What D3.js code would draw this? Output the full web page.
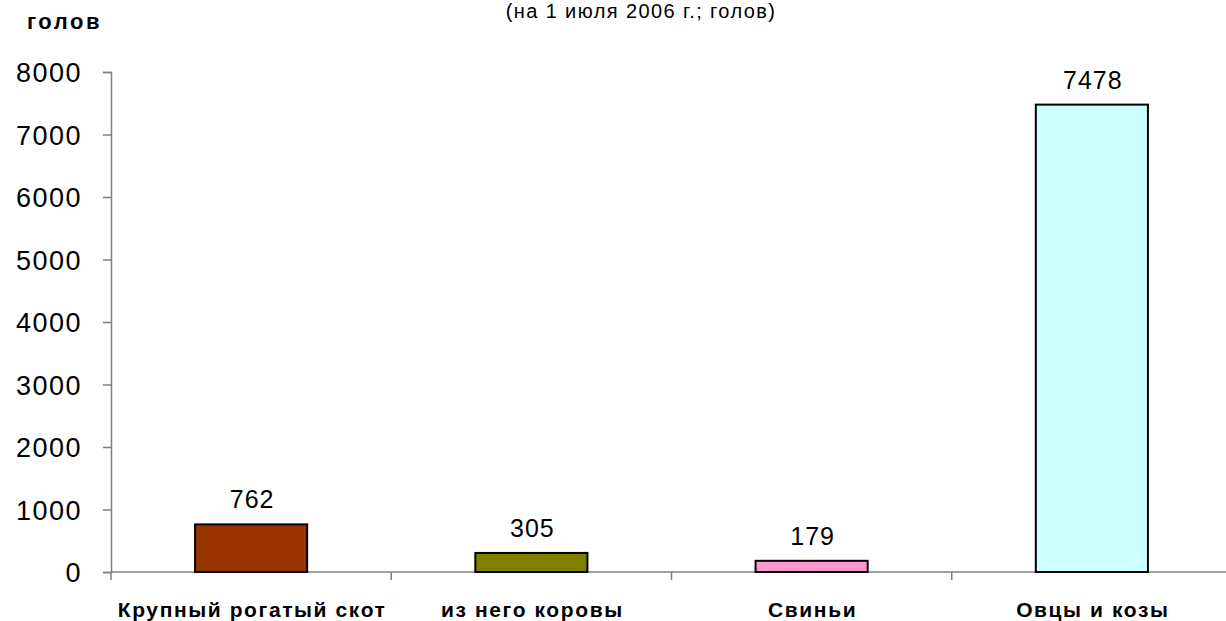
<!DOCTYPE html>
<html><head><meta charset="utf-8">
<script src="https://cdn.jsdelivr.net/npm/d3@7"></script>
<style>body{margin:0;background:#fff}svg{display:block}text{font-family:"Liberation Sans",Arial,sans-serif}</style>
</head><body>
<svg id="c" width="1226" height="621"></svg>
<script>
const categories = ["Крупный рогатый скот", "из него коровы", "Свиньи", "Овцы и козы"];
const values = [762, 305, 179, 7478];
const colors = ["#993300", "#808000", "#FF99CC", "#CCFFFF"];
const yTicks = [0, 1000, 2000, 3000, 4000, 5000, 6000, 7000, 8000];
const subtitle = "(на 1 июля 2006 г.; голов)";
const unitLabel = "голов";

const svg = d3.select("#c");
const m = {left: 111, top: 72, right: 1232, bottom: 572};
const x = d3.scaleBand().domain(categories).range([m.left, m.right]).paddingInner(0.6).paddingOuter(0.3);
const xb = d3.scaleBand().domain(categories).range([m.left, m.right]);
const y = d3.scaleLinear().domain([0, 8000]).range([m.bottom, m.top]);

svg.append("text").attr("x", 641).attr("y", 18).attr("text-anchor", "middle")
  .attr("font-size", 20).attr("letter-spacing", 1.4).attr("fill", "#000").text(subtitle);
svg.append("text").attr("x", 27).attr("y", 29).attr("font-size", 22).attr("font-weight", "bold")
  .attr("letter-spacing", 2.5).attr("fill", "#000").text(unitLabel);

// y axis
const ya = svg.append("g").attr("transform", `translate(${m.left},0)`)
  .call(d3.axisLeft(y).tickValues(yTicks).tickSize(8).tickPadding(21).tickFormat(d3.format("d")));
ya.select(".domain").attr("stroke", "#7f7f7f").attr("stroke-width", 1.5);
ya.selectAll(".tick line").attr("stroke", "#7f7f7f").attr("stroke-width", 1.5);
ya.selectAll("text").attr("font-size", 27).attr("letter-spacing", 1.5).attr("fill", "#000").attr("dy", "0.36em")
  .style("font-family", '"Liberation Sans",Arial,sans-serif');

// x axis
svg.append("line").attr("x1", m.left).attr("x2", 1226).attr("y1", m.bottom).attr("y2", m.bottom)
  .attr("stroke", "#7f7f7f").attr("stroke-width", 1.5);
const bounds = categories.map(c => xb(c)).concat([m.right]);
svg.selectAll(".xt").data(bounds).join("line")
  .attr("x1", d => d).attr("x2", d => d).attr("y1", m.bottom).attr("y2", m.bottom + 8)
  .attr("stroke", "#7f7f7f").attr("stroke-width", 1.5);

svg.selectAll(".cat").data(categories).join("text")
  .attr("x", d => xb(d) + xb.bandwidth() / 2 + 1).attr("y", 617).attr("text-anchor", "middle")
  .attr("font-size", 21).attr("font-weight", "bold").attr("letter-spacing", 1.6)
  .attr("fill", "#000").text(d => d);

// bars
svg.selectAll(".bar").data(values).join("rect")
  .attr("x", (d, i) => x(categories[i])).attr("width", x.bandwidth())
  .attr("y", d => y(d)).attr("height", d => y(0) - y(d))
  .attr("fill", (d, i) => colors[i]).attr("stroke", "#000").attr("stroke-width", 2);

svg.selectAll(".val").data(values).join("text")
  .attr("x", (d, i) => x(categories[i]) + x.bandwidth() / 2 + 1).attr("y", d => y(d) - 16)
  .attr("text-anchor", "middle").attr("font-size", 25).attr("letter-spacing", 1)
  .attr("fill", "#000").text(d => d);
</script>
</body></html>
